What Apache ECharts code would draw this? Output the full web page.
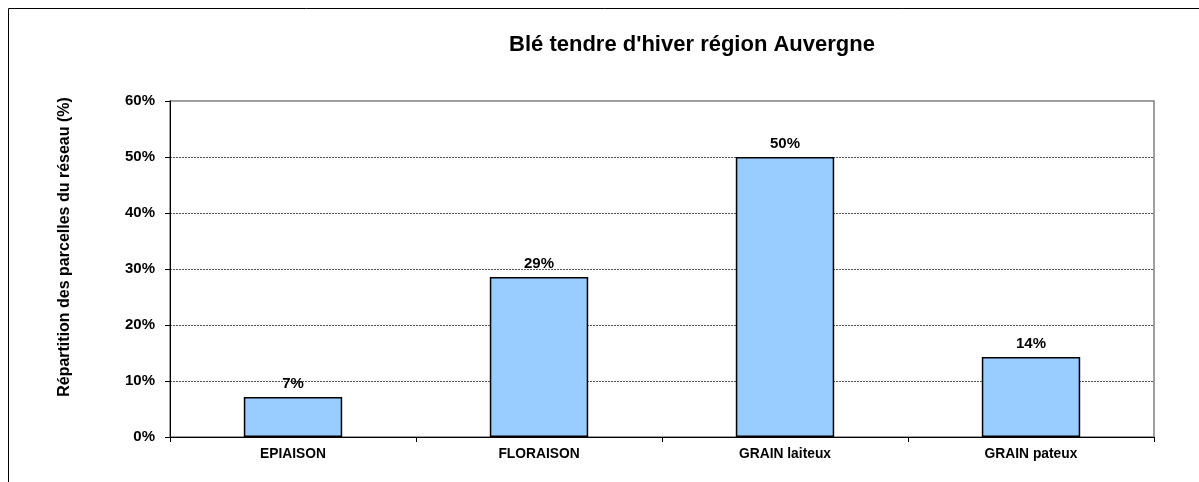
<!DOCTYPE html>
<html><head><meta charset="utf-8">
<script src="https://cdn.jsdelivr.net/npm/echarts@6/dist/echarts.min.js"></script>
<style>html,body{margin:0;padding:0;background:#fff}#c{width:1199px;height:482px}</style>
</head><body><div id="c"></div>
<script>
const categories = ['EPIAISON', 'FLORAISON', 'GRAIN laiteux', 'GRAIN pateux'];
const values = [7.14, 28.57, 50, 14.29];
const yTicks = [0, 10, 20, 30, 40, 50, 60];
const titleText = "Blé tendre d'hiver région Auvergne";
const yName = 'Répartition des parcelles du réseau (%)';

const chart = echarts.init(document.getElementById('c'), null, {renderer: 'canvas'});
const F = 'Arial, "Liberation Sans", sans-serif';
chart.setOption({
  animation: false,
  backgroundColor: '#fff',
  title: {
    text: titleText, left: 687, top: 29, textAlign: 'center',
    textStyle: {fontFamily: F, fontWeight: 'bold', fontSize: 22, color: '#000'}
  },
  graphic: [
    {type: 'rect', shape: {x: 8.5, y: 8.5, width: 1300, height: 600}, style: {fill: 'none', stroke: '#000', lineWidth: 1}, silent: true, z: -10},
    {type: 'text', x: 65, y: 247, rotation: Math.PI / 2,
     style: {text: yName, fontFamily: F, fontWeight: 'bold', fontSize: 16, fill: '#000', textAlign: 'center', textVerticalAlign: 'middle'}}
  ],
  grid: {left: 170, right: 45, top: 101, bottom: 45, show: true, borderColor: '#808080', borderWidth: 1.5, backgroundColor: 'transparent'},
  xAxis: {
    type: 'category', data: categories,
    axisLine: {lineStyle: {color: '#000', width: 1}},
    axisTick: {show: true, alignWithLabel: false, length: 5, lineStyle: {color: '#000'}},
    axisLabel: {fontFamily: F, fontWeight: 'bold', fontSize: 13.8, color: '#000', margin: 10}
  },
  yAxis: {
    type: 'value', min: yTicks[0], max: yTicks[yTicks.length - 1], interval: 10,
    axisLine: {show: true, lineStyle: {color: '#000', width: 1}},
    axisTick: {show: true, length: 5, lineStyle: {color: '#000'}},
    axisLabel: {fontFamily: F, fontWeight: 'bold', fontSize: 15, color: '#000', margin: 15, formatter: v => v + '%'},
    splitLine: {show: true, showMaxLine: false, lineStyle: {color: '#555', type: [2, 1], width: 1}}
  },
  series: [{
    type: 'bar', data: values, barWidth: '40%',
    itemStyle: {color: '#99CCFF', borderColor: '#000', borderWidth: 1.5},
    label: {show: true, position: 'top', distance: 6, fontFamily: F, fontWeight: 'bold', fontSize: 15, color: '#000',
            formatter: p => Math.round(p.value) + '%'}
  }]
});
</script></body></html>
